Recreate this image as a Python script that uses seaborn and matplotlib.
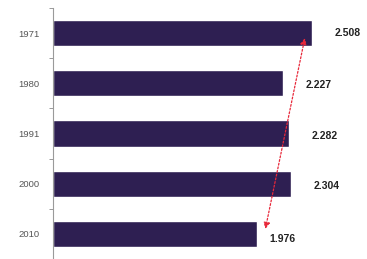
import matplotlib
matplotlib.use("Agg")
import matplotlib.pyplot as plt
import seaborn as sns
import pandas as pd
from matplotlib.ticker import FixedLocator

years = ["1971", "1980", "1991", "2000", "2010"]
values = [2.508, 2.227, 2.282, 2.304, 1.976]
labels = ["2.508", "2.227", "2.282", "2.304", "1.976"]

df = pd.DataFrame({"year": years, "value": values})

sns.set_style("white")
plt.rcParams["font.family"] = ["Liberation Sans", "DejaVu Sans"]

fig = plt.figure(figsize=(3.67, 2.59), dpi=100)
ax = fig.add_axes([53 / 367, 0.0, 1 - 53 / 367, 1 - 8 / 259])

sns.barplot(data=df, x="value", y="year", orient="h", color="#2e1f52",
            saturation=1, width=0.52, ax=ax)

ax.set_xlim(0, 3.04)
ax.set_ylim(4.5, -0.5)
ax.set_xlabel("")
ax.set_ylabel("")
ax.set_xticks([])
for s in ["top", "right", "bottom"]:
    ax.spines[s].set_visible(False)
ax.spines["left"].set_color("#9a9a9a")
ax.spines["left"].set_linewidth(0.8)
ax.tick_params(axis="y", which="major", length=0, labelsize=6.8, labelcolor="#555555", pad=10)
ax.yaxis.set_minor_locator(FixedLocator([-0.5, 0.5, 1.5, 2.5, 3.5, 4.5]))
ax.tick_params(axis="y", which="minor", length=3, width=0.7, color="#9a9a9a", left=True)

for i, (v, t) in enumerate(zip(values, labels)):
    off = 9 if i == len(values) - 1 else 16.5
    dy = 0 if i == 0 else (-4 if i == len(values) - 1 else -1.5)
    ax.annotate(t, xy=(v, i), xytext=(off, dy), textcoords="offset points",
                ha="left", va="center", fontsize=7.5, fontweight="bold", color="#222222")

ax.annotate("", xy=(values[0] - 0.07, 0.1), xytext=(values[-1] + 0.08, 3.9),
            arrowprops=dict(arrowstyle="<|-|>", color="#e8283a", linestyle=(0, (1.5, 1.5)),
                            lw=0.9, mutation_scale=9, shrinkA=0, shrinkB=0))

fig.savefig("out.png", dpi=100)
